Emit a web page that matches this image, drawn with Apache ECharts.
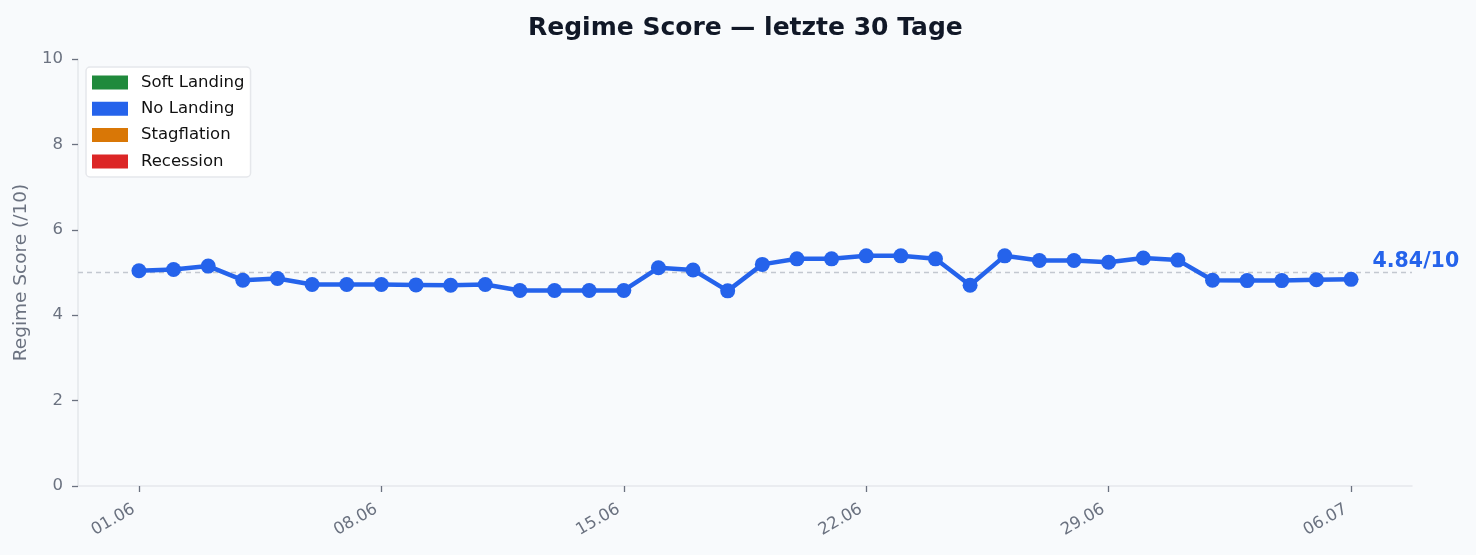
<!DOCTYPE html>
<html>
<head>
<meta charset="utf-8">
<script src="https://cdn.jsdelivr.net/npm/echarts@6/dist/echarts.min.js"></script>
<style>
html,body{margin:0;padding:0;background:#f8fafc;}
#chart{width:1476px;height:555px;}
</style>
</head>
<body>
<div id="chart"></div>
<script>
const dates = ['01.06','02.06','03.06','04.06','05.06','06.06','07.06','08.06','09.06','10.06','11.06','12.06','13.06','14.06','15.06','16.06','17.06','18.06','19.06','20.06','21.06','22.06','23.06','24.06','25.06','26.06','27.06','28.06','29.06','30.06','01.07','02.07','03.07','04.07','05.07','06.07'];
const scores = [5.04,5.07,5.15,4.82,4.86,4.72,4.72,4.72,4.71,4.70,4.72,4.58,4.58,4.58,4.58,5.11,5.06,4.57,5.19,5.32,5.32,5.39,5.39,5.32,4.70,5.39,5.28,5.28,5.24,5.34,5.29,4.82,4.81,4.81,4.83,4.84];
const tickIdx = [0,7,14,21,28,35];
const yTicks = [0,2,4,6,8,10];
const legendNames = ['Soft Landing','No Landing','Stagflation','Recession'];
const legendColors = ['#208a3c','#2563eb','#d97706','#dc2626'];
const refLine = 5;
const lastLabel = '4.84/10';

const font = 'DejaVu Sans';
const chart = echarts.init(document.getElementById('chart'));
const pts = scores.map((v,i)=>[i,v]);
const last = pts.length-1;
const lineData = pts.map((p,i)=> i===last ? {value:p,label:{show:true,position:'right',distance:14,offset:[0,-18],formatter:lastLabel,color:'#2563eb',fontWeight:'bold',fontSize:20.5,fontFamily:font}} : p);

const series = [{
  name:'Score', type:'line', data:lineData, symbol:'circle', symbolSize:15,
  lineStyle:{width:4.5,color:'#2563eb'}, itemStyle:{color:'#2563eb'}, z:5,
  markLine:{silent:true,symbol:'none',label:{show:false},
    lineStyle:{color:'#c3c8d0',type:[5,4],width:1.3},
    data:[{yAxis:refLine}]}
}];
legendNames.forEach((n,i)=>series.push({name:n,type:'line',data:[],itemStyle:{color:legendColors[i]},lineStyle:{color:legendColors[i]}}));

chart.setOption({
  backgroundColor:'#f8fafc',
  animation:false,
  textStyle:{fontFamily:font},
  title:{text:'Regime Score — letzte 30 Tage',left:523,top:11,
    textStyle:{fontSize:25,fontWeight:'bold',color:'#111827',fontFamily:font}},
  legend:{data:legendNames,orient:'vertical',left:86,top:67,icon:'rect',itemWidth:36,itemHeight:14,itemGap:9.3,
    backgroundColor:'#ffffff',borderColor:'#e5e7eb',borderWidth:1.5,borderRadius:4,padding:[7,6,7,6],
    textStyle:{fontSize:16.5,color:'#111111',fontFamily:font,padding:[0,0,0,8]},selectedMode:false},
  grid:{left:78,right:64,top:59,bottom:69},
  xAxis:{type:'value',min:-1.76,max:36.76,
    axisLine:{show:true,onZero:false,lineStyle:{color:'#e5e7eb',width:1.5}},
    axisTick:{show:true,customValues:tickIdx,length:6,lineStyle:{color:'#6b7280',width:1.3}},
    axisLabel:{customValues:tickIdx,rotate:30,fontSize:16.5,color:'#6b7280',margin:19,padding:[0,6,0,0],fontFamily:font,formatter:v=>dates[Math.round(v)]},
    splitLine:{show:false}},
  yAxis:{type:'value',min:0,max:10,interval:2,name:'Regime Score (/10)',nameLocation:'middle',nameGap:44,
    nameTextStyle:{fontSize:18.5,color:'#6b7280',fontFamily:font},
    axisLine:{show:true,onZero:false,lineStyle:{color:'#e5e7eb',width:1.5}},
    axisTick:{show:true,length:6,lineStyle:{color:'#6b7280',width:1.3}},
    axisLabel:{fontSize:16.5,color:'#6b7280',margin:15,fontFamily:font},
    splitLine:{show:false}},
  series:series
});
</script>
</body>
</html>
